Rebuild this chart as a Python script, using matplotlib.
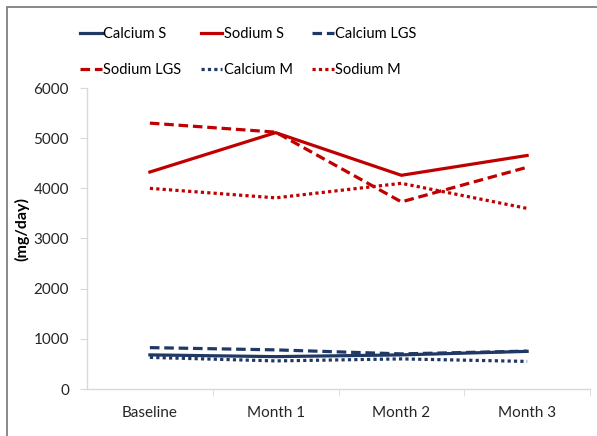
import matplotlib
matplotlib.use('Agg')
import matplotlib.pyplot as plt
from matplotlib.patches import Rectangle

# data (mg/day)
months = ['Baseline', 'Month 1', 'Month 2', 'Month 3']
calcium_s = [680, 645, 680, 750]
sodium_s = [4325, 5110, 4260, 4655]
calcium_lgs = [825, 780, 700, 755]
sodium_lgs = [5300, 5120, 3730, 4420]
calcium_m = [630, 560, 600, 550]
sodium_m = [4000, 3810, 4100, 3600]

navy = '#1F3864'
red = '#C00000'
plt.rcParams['font.family'] = ['Lato', 'DejaVu Sans']

fig = plt.figure(figsize=(5.97, 4.36), dpi=100)
ax = fig.add_axes([87 / 597, 1 - 389 / 436, 503 / 597, 301 / 436])

x = range(len(months))
lw = 2.3
l1, = ax.plot(x, calcium_s, color=navy, lw=lw, label='Calcium S')
l2, = ax.plot(x, sodium_s, color=red, lw=lw, label='Sodium S')
l3, = ax.plot(x, calcium_lgs, color=navy, lw=lw, ls=(0, (3, 1.5)), label='Calcium LGS')
l4, = ax.plot(x, sodium_lgs, color=red, lw=lw, ls=(0, (3, 1.5)), label='Sodium LGS')
l5, = ax.plot(x, calcium_m, color=navy, lw=lw, ls=(0, (1, 1)), label='Calcium M')
l6, = ax.plot(x, sodium_m, color=red, lw=lw, ls=(0, (1, 1)), label='Sodium M')

ax.set_xlim(-0.5, 3.5)
ax.set_ylim(0, 6000)
ax.set_yticks(range(0, 6001, 1000))
ax.set_xticks(list(x))
ax.set_xticklabels(months)
ax.set_xticks([0.5, 1.5, 2.5, 3.5], minor=True)
ax.tick_params(axis='x', which='major', length=0, pad=12, labelsize=11, colors='#262626')
ax.tick_params(axis='x', which='minor', length=5, color='#D9D9D9', direction='out')
ax.tick_params(axis='y', length=5, color='#D9D9D9', labelsize=11, colors='#262626', pad=8)
for side in ['top', 'right']:
    ax.spines[side].set_visible(False)
for side in ['left', 'bottom']:
    ax.spines[side].set_color('#D9D9D9')
    ax.spines[side].set_linewidth(1)

fig.text(22 / 597, 1 - 229 / 436, '(mg/day)', rotation=90, ha='center', va='center',
         fontsize=11.5, fontweight='bold')

# legend order so that rows read across like the original
handles = [l1, l4, l2, l5, l3, l6]
fig.legend(handles, [h.get_label() for h in handles], ncol=3, frameon=False,
           loc='upper left', bbox_to_anchor=(67 / 597, 1 - 14 / 436),
           fontsize=10.5, handlelength=1.5, handletextpad=0.1,
           columnspacing=1.3, labelspacing=1.5)

# outer frame (left and top visible)
fig.patches.append(Rectangle((7 / 597, -0.1), 1.2, 1 - 7 / 436 + 0.1,
                             transform=fig.transFigure, fill=False,
                             edgecolor='#7F7F7F', lw=1.3))

fig.savefig('out.png', dpi=100)
